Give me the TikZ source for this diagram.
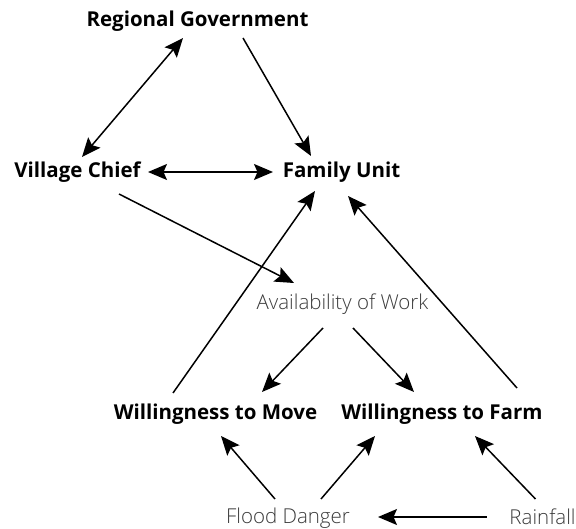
\documentclass[tikz,border=0pt]{standalone}
\usepackage{fontspec}
\setmainfont{Open Sans}
\newfontfamily\lightfont{Open Sans Light}
\usetikzlibrary{arrows.meta}
\definecolor{lighttext}{HTML}{3A3A3A}
\tikzset{
  mainlabel/.style={anchor=base, inner sep=0pt, font=\fontsize{20.5}{24}\selectfont\bfseries, text=black},
  sublabel/.style={anchor=base, inner sep=0pt, font=\lightfont\fontsize{20.5}{24}\selectfont, text=lighttext},
  tipshape/.style={},
  conn/.style={line width=1.5pt, -{Stealth[length=19pt,width=16pt,inset=3.5pt]}},
  biconn/.style={line width=1.5pt, {Stealth[length=19pt,width=16pt,inset=3.5pt]}-{Stealth[length=19pt,width=16pt,inset=3.5pt]}}
}
\begin{document}
\begin{tikzpicture}[x=1pt,y=-1pt]
\useasboundingbox (0,0) rectangle (576,529);
\node[mainlabel] (RG) at (197.5,27) {Regional Government};
\node[mainlabel] (VC) at (77.5,178) {Village Chief};
\node[mainlabel] (FU) at (341.5,178) {Family Unit};
\node[sublabel] (AW) at (342.5,310) {Availability of Work};
\node[mainlabel] (WM) at (215.5,420) {Willingness to Move};
\node[mainlabel] (WF) at (442,420) {Willingness to Farm};
\node[sublabel] (FD) at (288,523) {Flood Danger};
\node[sublabel] (RF) at (542.5,524) {Rainfall};

\draw[biconn] ([shift={(4.5,-21)}]VC.base) -- ([shift={(-14.5,11)}]RG.base);
\draw[conn] ([shift={(45.5,11)}]RG.base) -- ([shift={(-30.5,-22)}]FU.base);
\draw[biconn] ([shift={(70.5,-6)}]VC.base) -- ([shift={(-68.5,-6)}]FU.base);
\draw[conn] ([shift={(41.5,16)}]VC.base) -- ([shift={(-48.5,-27)}]AW.base);
\draw[conn] ([shift={(-42.5,-27)}]WM.base) -- ([shift={(-26.5,13)}]FU.base);
\draw[conn] ([shift={(75,-32)}]WF.base) -- ([shift={(6.5,18)}]FU.base);
\draw[conn] ([shift={(-19.5,18)}]AW.base) -- ([shift={(46.5,-28)}]WM.base);
\draw[conn] ([shift={(10.5,18)}]AW.base) -- ([shift={(-28,-28)}]WF.base);
\draw[conn] ([shift={(-13,-24)}]FD.base) -- ([shift={(5.5,16)}]WM.base);
\draw[conn] ([shift={(33,-24)}]FD.base) -- ([shift={(-67,16)}]WF.base);
\draw[conn] ([shift={(-7,-25)}]RF.base) -- ([shift={(33,16)}]WF.base);
\draw[conn] ([shift={(-56,-7)}]RF.base) -- ([shift={(90,-6)}]FD.base);
\end{tikzpicture}
\end{document}
